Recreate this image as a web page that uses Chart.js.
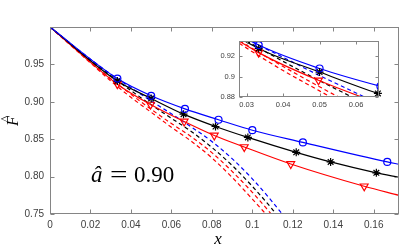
<!DOCTYPE html>
<html><head><meta charset="utf-8">
<script src="https://cdn.jsdelivr.net/npm/chart.js@4.4.1/dist/chart.umd.min.js"></script>
<style>
html,body{margin:0;padding:0;background:#fff;overflow:hidden}
#wrap{position:relative;width:399px;height:249px}
#main{position:absolute;left:0;top:0}
#inset{position:absolute;left:200px;top:30px}
</style></head><body>
<div id="wrap"><canvas id="main" width="399" height="249"></canvas><canvas id="inset" width="190" height="85"></canvas></div>
<script>
// ---- data ----
const blueCurveX = [0, 0.0333, 0.05, 0.0667, 0.0833, 0.1, 0.125, 0.1667, 0.1725];
const blueCurveF = [1.0, 0.931, 0.908, 0.8905, 0.876, 0.862, 0.8457, 0.8196, 0.8165];
const blueMarkX  = [0.0333, 0.05, 0.0667, 0.0833, 0.1, 0.125, 0.1667];
const blueMarkF  = [0.931, 0.908, 0.8905, 0.876, 0.862, 0.8457, 0.8196];

const blackCurveX = [0, 0.0333, 0.05, 0.066, 0.0818, 0.0978, 0.1217, 0.1387, 0.1613, 0.1725];
const blackCurveF = [1.0, 0.9277, 0.9045, 0.8835, 0.867, 0.8524, 0.8324, 0.8196, 0.805, 0.799];
const blackMarkX  = [0.0333, 0.05, 0.066, 0.0818, 0.0978, 0.1217, 0.1387, 0.1613];
const blackMarkF  = [0.9277, 0.9045, 0.8835, 0.867, 0.8524, 0.8324, 0.8196, 0.805];

const redCurveX = [0, 0.0333, 0.0497, 0.0663, 0.0812, 0.096, 0.119, 0.1553, 0.1725];
const redCurveF = [1.0, 0.9236, 0.8964, 0.8737, 0.855, 0.8396, 0.8169, 0.7871, 0.775];
const redMarkX  = [0.0333, 0.0497, 0.0663, 0.0812, 0.096, 0.119, 0.1553];
const redMarkF  = [0.9236, 0.8964, 0.8737, 0.855, 0.8396, 0.8169, 0.7871];

const blueDashX = [0, 0.01, 0.02, 0.03, 0.04, 0.05, 0.06, 0.07, 0.08, 0.09, 0.1, 0.11, 0.115];
const blueDashF = [1.0, 0.978, 0.957, 0.937, 0.919, 0.901, 0.884, 0.866, 0.847, 0.824, 0.797, 0.766, 0.749];
const blackDashX = [0, 0.01, 0.02, 0.03, 0.04, 0.05, 0.06, 0.07, 0.08, 0.09, 0.1, 0.11, 0.112];
const blackDashF = [1.0, 0.978, 0.956, 0.935, 0.915, 0.896, 0.878, 0.86, 0.839, 0.815, 0.787, 0.756, 0.749];
const redDashX = [0, 0.01, 0.02, 0.03, 0.04, 0.05, 0.06, 0.07, 0.08, 0.09, 0.1, 0.11];
const redDashF = [1.0, 0.977, 0.954, 0.931, 0.91, 0.89, 0.871, 0.853, 0.832, 0.807, 0.779, 0.748];
const red2DashX = [0, 0.01, 0.02, 0.03, 0.04, 0.05, 0.06, 0.07, 0.08, 0.09, 0.1, 0.108];
const red2DashF = [1.0, 0.976, 0.952, 0.928, 0.906, 0.886, 0.866, 0.847, 0.825, 0.799, 0.77, 0.746];

const mainXTicks = [0, 0.02, 0.04, 0.06, 0.08, 0.1, 0.12, 0.14, 0.16];
const mainYTicks = [0.75, 0.80, 0.85, 0.90, 0.95];
const insetXTicks = [0.03, 0.04, 0.05, 0.06];
const insetYTicks = [0.88, 0.9, 0.92];
const annotationText = ['\u00e2', '=', '0.90'];

// ---- helpers ----
const BLUE = '#0000ff', RED = '#ff0000', BLACK = '#000000';
const pts = (X, Y) => X.map((v, i) => ({x: v, y: Y[i]}));
const line = (X, Y, c, dash) => ({data: pts(X, Y), borderColor: c, borderWidth: 1.2, borderDash: dash || [],
  pointRadius: 0, fill: false, cubicInterpolationMode: 'monotone'});
const mark = (X, Y, c, style, r, rot, clip) => ({data: pts(X, Y), showLine: false, borderColor: c,
  backgroundColor: 'rgba(0,0,0,0)', pointStyle: style, pointRadius: r, pointBorderWidth: 1.2,
  pointRotation: rot || 0, clip: clip});

function buildDatasets(inset) {
  const D = [4, 3];
  return [
    mark(blueMarkX, blueMarkF, BLUE, 'circle', 3.5, 0, 0),
    mark(blackMarkX, blackMarkF, BLACK, 'star', 4, 0, inset ? {left:0, top:0, bottom:0, right:6} : 0),
    mark(redMarkX, redMarkF, RED, 'triangle', 4.5, 180, 0),
    line(blueCurveX, blueCurveF, BLUE),
    line(blackCurveX, blackCurveF, BLACK),
    line(redCurveX, redCurveF, RED),
    line(blueDashX, blueDashF, BLUE, D),
    line(blackDashX, blackDashF, BLACK, D),
    line(redDashX, redDashF, RED, D),
    line(red2DashX, red2DashF, RED, D)
  ];
}

function boxPlugin(tl, color, fillWhite) {
  return {
    id: 'boxTicks',
    beforeDatasetsDraw(chart) {
      if (!fillWhite) return;
      const a = chart.chartArea, ctx = chart.ctx;
      ctx.save(); ctx.fillStyle = '#fff';
      ctx.fillRect(a.left, a.top, a.right - a.left, a.bottom - a.top);
      ctx.restore();
    },
    afterDatasetsDraw(chart) {
      const {ctx, chartArea: a, scales: {x, y}} = chart;
      ctx.save();
      ctx.strokeStyle = color; ctx.lineWidth = 1;
      const L = Math.round(a.left) + 0.5, R = Math.round(a.right) - 0.5;
      const T = Math.round(a.top) + 0.5, B = Math.round(a.bottom) - 0.5;
      ctx.strokeRect(L, T, R - L, B - T);
      ctx.beginPath();
      x.ticks.forEach(t => {
        const p = Math.round(x.getPixelForValue(t.value)) + 0.5;
        ctx.moveTo(p, B); ctx.lineTo(p, B - tl); ctx.moveTo(p, T); ctx.lineTo(p, T + tl);
      });
      y.ticks.forEach(t => {
        const p = Math.round(y.getPixelForValue(t.value)) + 0.5;
        ctx.moveTo(L, p); ctx.lineTo(L + tl, p); ctx.moveTo(R, p); ctx.lineTo(R - tl, p);
      });
      ctx.stroke();
      ctx.restore();
    }
  };
}

const textPlugin = {
  id: 'texts',
  afterDraw(chart) {
    const ctx = chart.ctx;
    ctx.save();
    ctx.fillStyle = '#000';
    // annotation
    ctx.textBaseline = 'alphabetic';
    ctx.textAlign = 'left';
    const yb = 182;
    ctx.font = 'italic 23px "Liberation Serif"';
    ctx.fillText(annotationText[0], 91, yb);
    ctx.font = '23px "Liberation Serif"';
    ctx.save();
    ctx.translate(110, yb);
    ctx.scale(1.35, 1);
    ctx.fillText(annotationText[1], 0, 0);
    ctx.restore();
    ctx.fillText(annotationText[2], 134, yb);
    // x title
    ctx.textAlign = 'center';
    ctx.textBaseline = 'middle';
    ctx.font = 'italic 17px "Liberation Serif"';
    ctx.fillText('x', 218, 240);
    // y title
    ctx.translate(14, 121);
    ctx.rotate(-Math.PI / 2);
    ctx.font = 'italic 16px "Liberation Serif"';
    ctx.fillText('F', 0, 0);
    ctx.font = '13px "Liberation Serif"';
    ctx.fillText('^', 2, -8);
    ctx.restore();
  }
};

const LBL = '#404040', BOX = '#858585';
const fmtTrim = v => String(+v.toFixed(3));

function scaleOpts(min, max, ticks, fmt, size, pad, fitKey, fitVal) {
  return {
    type: 'linear', min: min, max: max,
    afterBuildTicks(s) { s.ticks = ticks.map(v => ({value: v})); },
    ticks: {autoSkip: false, maxRotation: 0, minRotation: 0, color: LBL, padding: pad,
      font: {family: '"Liberation Sans", Arial, sans-serif', size: size}, callback: fmt},
    grid: {display: false, drawTicks: false},
    border: {display: false},
    afterFit(s) {
      s[fitKey] = fitVal;
      s.paddingLeft = 0; s.paddingRight = 0; s.paddingTop = 0; s.paddingBottom = 0;
    }
  };
}

Chart.defaults.animation = false;

new Chart(document.getElementById('main'), {
  type: 'line',
  data: {datasets: buildDatasets(false)},
  options: {
    responsive: false, devicePixelRatio: 1, events: [],
    layout: {autoPadding: false, padding: {left: 0, right: 0, top: 27, bottom: 0}},
    plugins: {legend: {display: false}, tooltip: {enabled: false}},
    scales: {
      x: scaleOpts(0, 0.1725, mainXTicks, fmtTrim, 10, 5, 'height', 35),
      y: scaleOpts(0.75, 1.0, mainYTicks, v => v.toFixed(2), 10, 6, 'width', 50)
    }
  },
  plugins: [boxPlugin(4, BOX, false), textPlugin]
});

new Chart(document.getElementById('inset'), {
  type: 'line',
  data: {datasets: buildDatasets(true)},
  options: {
    responsive: false, devicePixelRatio: 1, events: [],
    layout: {autoPadding: false, padding: {left: 0, right: 11, top: 11, bottom: 0}},
    plugins: {legend: {display: false}, tooltip: {enabled: false}},
    scales: {
      x: scaleOpts(0.0279, 0.0663, insetXTicks, fmtTrim, 7.5, 3, 'height', 18),
      y: scaleOpts(0.88, 0.935, insetYTicks, fmtTrim, 7.5, 4, 'width', 39)
    }
  },
  plugins: [boxPlugin(3, BOX, true)]
});
</script>
</body></html>
